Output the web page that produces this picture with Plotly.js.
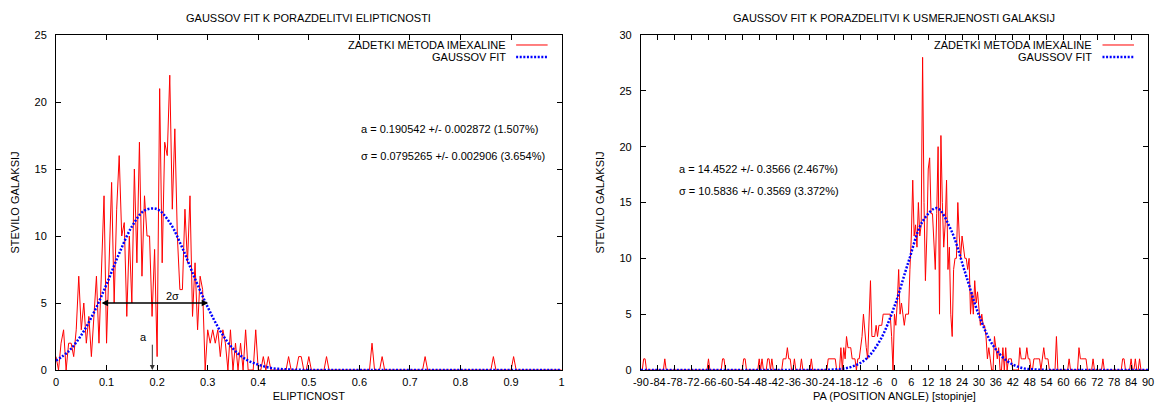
<!DOCTYPE html>
<html><head><meta charset="utf-8">
<script src="https://cdn.plot.ly/plotly-3.0.1.min.js"></script>
<style>html,body{margin:0;padding:0;background:#fff;}#chart{width:1156px;height:408px;}</style>
</head><body><div id="chart"></div>
<script>
// ---------- DATA ----------
// Left: histogram of ellipticity (bin step 0.005, from 0 to 1)
const ellipBinStart = 0;
const ellipBinStep = 0.005;
const ellipCounts = [
  1,0,2,3,0,2,2,1,3,7, 3,5,2,4,1,4,7,2,7,13,
  2,8,14,5,12,16,10,11,4,10, 5,15,8,17,7,13,10,10,4,9,
  1,21,8,17,16,22,12,18,10,6, 6,12,8,13,4,8,3,7,6,0,
  3,2,3,2,3,1,3,2,0,3, 0,2,0,2,0,3,0,0,0,3,
  0,0,1,0,1,0,0,0,0,0, 0,0,1,0,0,0,1,1,0,0,
  1,0,0,0,0,0,0,1,0,0, 0,0,0,0,0,0,0,0,0,0,
  0,0,0,0,0,2,0,0,0,1, 0,0,0,0,0,0,0,0,0,0,
  0,0,0,0,0,0,1,0,0,0, 0,0,0,0,0,0,0,0,0,0,
  0,0,0,0,0,0,0,0,0,0, 0,0,0,1,0,0,0,0,0,0,
  0,1,0,0,0,0,0,0,0,0, 0,0,0,0,0,0,0,0,0,0,
  0
];
// Left: Gaussian fit curve, read every 0.025
const ellipFitStart = 0;
const ellipFitStep = 0.025;
const ellipFitValues = [
  0.7,1.4,2.6,4.3,6.4,8.7,10.7,11.9,12.0,11.0,
  9.1,6.8,4.7,2.9,1.6,0.8,0.4,0.15,0.06,0.02,
  0,0,0,0,0,0,0,0,0,0, 0,0,0,0,0,0,0,0,0,0, 0
];
// Right: histogram of position angle (bin step 0.5 deg, from -90 to 90)
const paBinStart = -90;
const paBinStep = 0.5;
const paCounts = [
  0,0,1,1,0,0,0,0,0,0, 0,0,0,0,0,0,0,1,0,0,
  0,0,0,0,0,0,0,0,0,0, 0,0,0,0,0,0,0,0,0,0,
  0,0,0,0,0,0,0,0,1,0, 0,0,0,0,0,0,0,0,1,1,
  0,0,0,0,0,0,0,0,0,0, 0,0,0,1,1,0,0,0,0,0,
  0,0,0,0,1,0,1,0,0,0, 1,1,0,1,0,0,0,0,0,0,
  0,1,1,1,2,1,1,0,0,1, 0,0,0,0,1,0,0,0,0,0,
  0,1,0,0,0,0,0,0,0,0, 0,0,0,1,1,1,1,1,1,0,
  0,0,2,0,2,1,3,2,2,2, 1,1,1,0,1,1,2,3,5,3,
  2,1,4,8,3,3,3,4,3,4, 4,4,5,5,5,5,5,5,3,0,
  5,4,6,9,5,6,5,4,5,5, 5,9,12,17,12,13,11,15,12,13,
  28,15,8,12,18,19,14,14,11,9, 14,20,5,21,15,11,13,17,9,11,
  5,3,9,10,10,15,12,10,12,11, 10,10,9,10,5,7,5,8,6,7,
  5,4,5,4,4,3,1,2,1,0, 0,3,2,1,2,0,0,2,0,2,
  0,1,1,1,0,0,0,0,0,2, 1,1,1,1,2,1,1,0,0,1,
  1,1,1,1,0,1,2,1,1,1, 0,0,0,0,0,3,0,0,0,0,
  0,0,0,0,1,0,0,0,0,0, 0,2,1,1,1,1,1,0,0,0,
  0,1,0,0,0,0,0,0,1,0, 0,0,0,0,0,0,0,0,0,0,
  0,0,1,1,0,0,0,0,1,0, 0,1,0,0,1,0,0,0,0,0,
  0
];
// Right: Gaussian fit curve, read every 5 deg
const paFitStart = -90;
const paFitStep = 5;
const paFitValues = [
  0,0,0,0,0,0,0,0,0,0,0,0,0,
  0.01,0.07,0.3,1.0,2.7,5.7,9.7,13.3,14.5,12.6,8.8,4.9,2.2,0.8,0.2,0.05,
  0,0,0,0,0,0,0,0
];
const paTickLabels = ['-90','-84','-78','-72','-66','-60','-54','-48','-42','-36','-30','-24','-18','-12','-6',
  '0','6','12','18','24','30','36','42','48','54','60','66','72','78','84','90'];

const leftTitle = 'GAUSSOV FIT K PORAZDELITVI ELIPTICNOSTI';
const rightTitle = 'GAUSSOV FIT K PORAZDELITVI K USMERJENOSTI GALAKSIJ';
const leftFitText = ['a = 0.190542 +/- 0.002872 (1.507%)', '\u03c3 = 0.0795265 +/- 0.002906 (3.654%)'];
const rightFitText = ['a = 14.4522 +/- 0.3566 (2.467%)', '\u03c3 = 10.5836 +/- 0.3569 (3.372%)'];
const seriesNames = ['ZADETKI METODA IMEXALINE', 'GAUSSOV FIT'];

// ---------- BUILD ----------
const seq = (start, step, n) => Array.from({length:n}, (_, i) => +(start + i*step).toFixed(6));
const ellipX = seq(ellipBinStart, ellipBinStep, ellipCounts.length);
const ellipFitX = seq(ellipFitStart, ellipFitStep, ellipFitValues.length);
const paX = seq(paBinStart, paBinStep, paCounts.length);
const paFitX = seq(paFitStart, paFitStep, paFitValues.length);

const W = 1156, H = 408;
const M = {l:56, r:8.3, t:35, b:37.5};
const PW = W - M.l - M.r, PH = H - M.t - M.b;
const fx = px => (px - M.l) / PW;
const fy = py => (H - M.b - py) / PH;

const FONT = 'Liberation Sans, Arial, Helvetica, sans-serif';
const font = {family: FONT, size: 11, color: '#000'};
const RED = '#ff0000', BLUE = '#0000ff';
const dotDash = '2px,1.6px';

const traces = [
  {x: ellipX, y: ellipCounts, xaxis:'x', yaxis:'y', type:'scatter', mode:'lines',
   line:{color:RED, width:1}, name:seriesNames[0], showlegend:false, hoverinfo:'skip'},
  {x: ellipFitX, y: ellipFitValues, xaxis:'x', yaxis:'y', type:'scatter', mode:'lines',
   line:{color:BLUE, width:2.5, dash:dotDash, shape:'spline', smoothing:1}, name:seriesNames[1], showlegend:false, hoverinfo:'skip'},
  {x: paX, y: paCounts, xaxis:'x2', yaxis:'y2', type:'scatter', mode:'lines',
   line:{color:RED, width:1}, name:seriesNames[0], showlegend:false, hoverinfo:'skip'},
  {x: paFitX, y: paFitValues, xaxis:'x2', yaxis:'y2', type:'scatter', mode:'lines',
   line:{color:BLUE, width:2.5, dash:dotDash, shape:'spline', smoothing:1}, name:seriesNames[1], showlegend:false, hoverinfo:'skip'}
];

const axBase = {
  showgrid:false, zeroline:false, showline:true, linecolor:'#000', linewidth:1,
  mirror:'ticks', ticks:'inside', ticklen:5, tickwidth:1, tickcolor:'#000',
  tickfont: font, automargin:false, fixedrange:true, tickangle:0
};

const leftDomEnd = fx(561.5);
const rightDomStart = fx(640.7);

const layout = {
  width: W, height: H, autosize:false,
  margin: {l:M.l, r:M.r, t:M.t, b:M.b, pad:0},
  paper_bgcolor:'#fff', plot_bgcolor:'#fff',
  font: font,
  showlegend:false,
  xaxis: Object.assign({}, axBase, {domain:[0, leftDomEnd], range:[0,1], tick0:0, dtick:0.1,
    ticklabelstandoff:2, title:{text:'ELIPTICNOST', font:font, standoff:5}}),
  yaxis: Object.assign({}, axBase, {domain:[0,1], range:[0,25], tick0:0, dtick:5, anchor:'x',
    ticklabelstandoff:6, title:{text:'STEVILO GALAKSIJ', font:font, standoff:12}}),
  xaxis2: Object.assign({}, axBase, {domain:[rightDomStart, 1], range:[-90,90], anchor:'y2',
    tickmode:'array', tickvals: paTickLabels.map(Number), ticktext: paTickLabels,
    ticklabelstandoff:2, title:{text:'PA (POSITION ANGLE) [stopinje]', font:font, standoff:5}}),
  yaxis2: Object.assign({}, axBase, {domain:[0,1], range:[0,30], tick0:0, dtick:5, anchor:'x2',
    ticklabelstandoff:6, title:{text:'STEVILO GALAKSIJ', font:font, standoff:12}}),
  annotations: [],
  shapes: []
};

const A = layout.annotations, S = layout.shapes;
// chart titles
A.push({xref:'paper', yref:'paper', x:fx(308.75), y:fy(18), text:leftTitle, showarrow:false, font:font, xanchor:'center', yanchor:'middle'});
A.push({xref:'paper', yref:'paper', x:fx(894.2), y:fy(18), text:rightTitle, showarrow:false, font:font, xanchor:'center', yanchor:'middle'});

// legends (text right-aligned, sample to the right)
function legend(rightEdgePx) {
  const textEnd = rightEdgePx - 53.5, s0 = rightEdgePx - 45.5, s1 = rightEdgePx - 14;
  A.push({xref:'paper', yref:'paper', x:fx(textEnd), y:fy(45), text:seriesNames[0], showarrow:false, font:font, xanchor:'right', yanchor:'middle'});
  A.push({xref:'paper', yref:'paper', x:fx(textEnd), y:fy(57), text:seriesNames[1], showarrow:false, font:font, xanchor:'right', yanchor:'middle'});
  S.push({type:'line', xref:'paper', yref:'paper', x0:fx(s0), x1:fx(s1), y0:fy(45), y1:fy(45), line:{color:RED, width:1}});
  S.push({type:'line', xref:'paper', yref:'paper', x0:fx(s0), x1:fx(s1), y0:fy(57), y1:fy(57), line:{color:BLUE, width:2.5, dash:dotDash}});
}
legend(561.5);
legend(1147.7);

// fit parameter texts
A.push({xref:'x', yref:'y', x:0.6, y:18, text:leftFitText[0], showarrow:false, font:font, xanchor:'left', yanchor:'middle'});
A.push({xref:'x', yref:'y', x:0.6, y:16, text:leftFitText[1], showarrow:false, font:font, xanchor:'left', yanchor:'middle'});
A.push({xref:'x2', yref:'y2', x:-77, y:18, text:rightFitText[0], showarrow:false, font:font, xanchor:'left', yanchor:'middle'});
A.push({xref:'x2', yref:'y2', x:-77, y:16, text:rightFitText[1], showarrow:false, font:font, xanchor:'left', yanchor:'middle'});

// 2 sigma arrow
A.push({xref:'x', yref:'y', axref:'x', ayref:'y', x:0.301, y:5, ax:0.087, ay:5, text:'', showarrow:true,
  arrowhead:2, arrowside:'end+start', arrowsize:1, arrowwidth:1.3, arrowcolor:'#000', standoff:0, startstandoff:0});
A.push({xref:'x', yref:'y', x:0.23, y:5.5, text:'2\u03c3', showarrow:false, font:font, xanchor:'center', yanchor:'middle'});
// a arrow
A.push({xref:'x', yref:'y', axref:'x', ayref:'y', x:0.1905, y:0, ax:0.1905, ay:2.0, text:'', showarrow:true,
  arrowhead:2, arrowsize:1, arrowwidth:1, arrowcolor:'#333', standoff:0});
A.push({xref:'x', yref:'y', x:0.1727, y:2.47, text:'a', showarrow:false, font:font, xanchor:'center', yanchor:'middle'});

Plotly.newPlot('chart', traces, layout, {staticPlot:true, displayModeBar:false});
</script>
</body></html>
